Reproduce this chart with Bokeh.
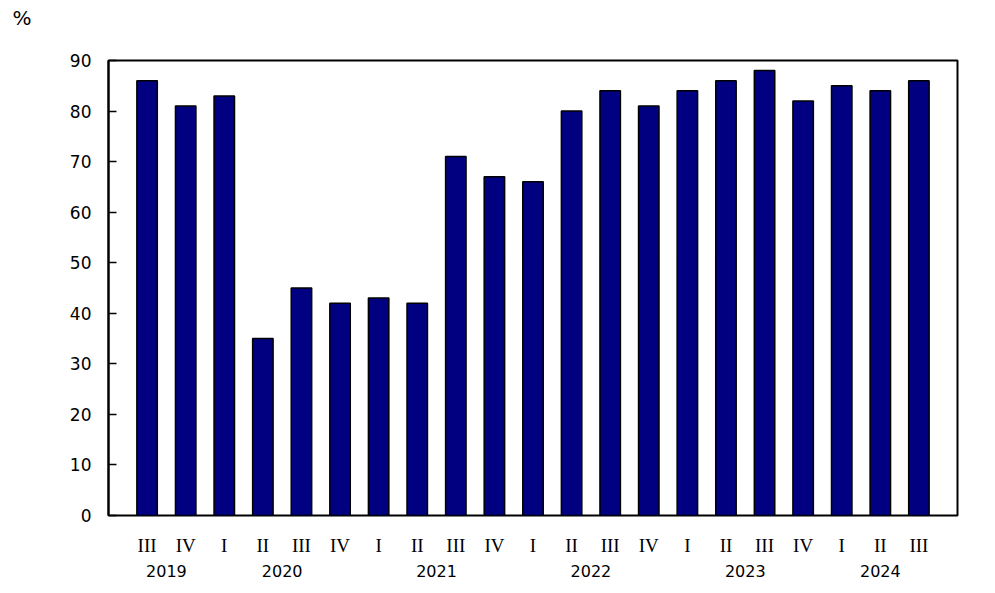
from bokeh.plotting import figure
from bokeh.models import LinearAxis, FixedTicker, Range1d, Title
from bokeh.embed import file_html
from bokeh.resources import INLINE

# quarterly values, %
quarters = ["III", "IV",
            "I", "II", "III", "IV",
            "I", "II", "III", "IV",
            "I", "II", "III", "IV",
            "I", "II", "III", "IV",
            "I", "II", "III"]
years = [2019, 2019,
         2020, 2020, 2020, 2020,
         2021, 2021, 2021, 2021,
         2022, 2022, 2022, 2022,
         2023, 2023, 2023, 2023,
         2024, 2024, 2024]
values = [86, 81,
          83, 35, 45, 42,
          43, 42, 71, 67,
          66, 80, 84, 81,
          84, 86, 88, 82,
          85, 84, 86]
y_ticks = [0, 10, 20, 30, 40, 50, 60, 70, 80, 90]

x = list(range(len(values)))

# centre of each year's group of quarters
year_list = sorted(set(years))
year_pos = []
for yr in year_list:
    idx = [i for i, v in enumerate(years) if v == yr]
    year_pos.append(sum(idx) / len(idx))

p = figure(
    width=987, height=585,
    x_range=Range1d(-1, len(values)),
    y_range=Range1d(0, 90),
    output_backend="svg",
    toolbar_location=None,
    min_border_left=108, min_border_right=30,
    min_border_top=60, min_border_bottom=70,
)

# blank spacer next to the frame, then the unit label above it
p.add_layout(Title(text=" ", text_font="DejaVu Sans", text_font_size="20px",
                   standoff=3), "above")
p.add_layout(Title(text="%", text_font="DejaVu Sans", text_font_size="20px",
                   text_font_style="normal", text_color="black",
                   align="left", vertical_align="top", offset=-96, standoff=0),
             "above")

p.vbar(x=x, top=values, width=0.53, fill_color="#000080",
       line_color="black", line_width=1.5)

p.xgrid.grid_line_color = None
p.ygrid.grid_line_color = None
p.outline_line_color = "black"
p.outline_line_width = 2

p.yaxis.ticker = FixedTicker(ticks=y_ticks)
p.yaxis.major_tick_in = 8
p.yaxis.major_tick_out = 0
p.yaxis.minor_tick_line_color = None
p.yaxis.axis_line_color = "black"
p.yaxis.axis_line_width = 2
p.yaxis.major_tick_line_width = 1.5
p.yaxis.major_label_text_font = "DejaVu Sans"
p.yaxis.major_label_text_font_size = "17px"
p.yaxis.major_label_text_color = "black"
p.yaxis.major_label_standoff = 17

p.xaxis.ticker = FixedTicker(ticks=x)
p.xaxis.major_label_overrides = {i: q for i, q in zip(x, quarters)}
p.xaxis.major_tick_line_color = None
p.xaxis.minor_tick_line_color = None
p.xaxis.axis_line_color = None
p.xaxis.major_label_text_font = "Liberation Serif"
p.xaxis.major_label_text_font_size = "19px"
p.xaxis.major_label_text_color = "black"
p.xaxis.major_label_standoff = 13

year_axis = LinearAxis(
    ticker=FixedTicker(ticks=year_pos),
    major_label_overrides={pos: str(yr) for pos, yr in zip(year_pos, year_list)},
)
year_axis.major_tick_line_color = None
year_axis.minor_tick_line_color = None
year_axis.axis_line_color = None
year_axis.major_label_text_font = "DejaVu Sans"
year_axis.major_label_text_font_size = "16px"
year_axis.major_label_text_color = "black"
year_axis.major_label_standoff = 0
p.add_layout(year_axis, "below")

open("out.html", "w").write(file_html(p, INLINE))
